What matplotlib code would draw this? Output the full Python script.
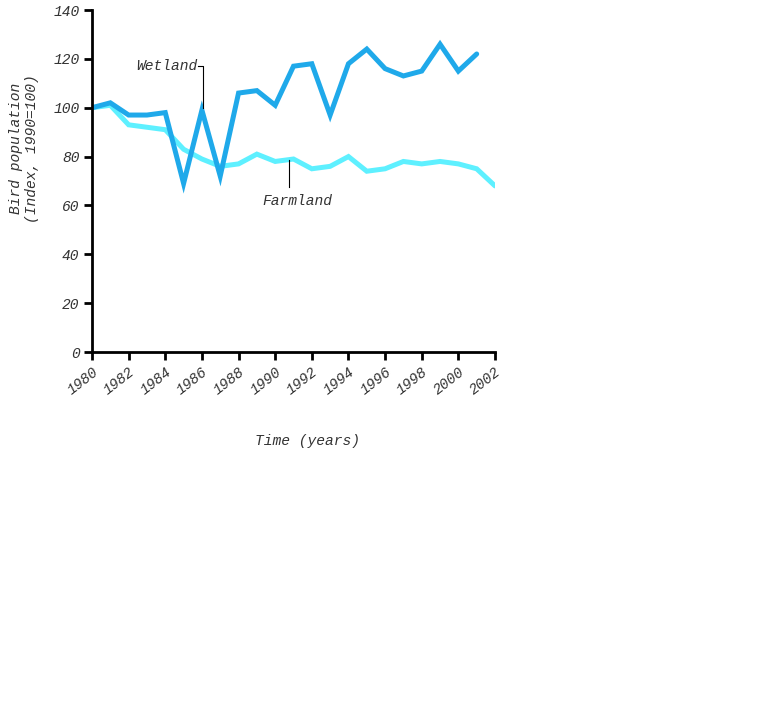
import matplotlib.pyplot as plt

# ===== DATA =====
years = list(range(1980, 2003))
wetland_years = list(range(1980, 2002))
wetland = [100, 102, 97, 97, 98, 69, 99, 72, 106, 107, 101, 117, 118, 97,
           118, 124, 116, 113, 115, 126, 115, 122]
farmland = [100, 101, 93, 92, 91, 83, 79, 76, 77, 81, 78, 79, 75, 76,
            80, 74, 75, 78, 77, 78, 77, 75, 68]
x_ticks = list(range(1980, 2003, 2))
y_ticks = list(range(0, 141, 20))

WET_COL = "#1fa9ea"
FARM_COL = "#5ef0ff"
FONT = "Liberation Mono"
TXT = "#333333"


def main():
    fig = plt.figure(figsize=(7.68, 7.12), dpi=100)
    ax = fig.add_axes([92 / 768, 1 - 352 / 712, 403 / 768, 342 / 712])

    ax.plot(years, farmland, color=FARM_COL, lw=3.6, solid_capstyle="round",
            solid_joinstyle="miter")
    ax.plot(wetland_years, wetland, color=WET_COL, lw=3.6, solid_capstyle="round",
            solid_joinstyle="miter")

    ax.set_xlim(1980, 2002)
    ax.set_ylim(0, 140)
    for s in ("top", "right"):
        ax.spines[s].set_visible(False)
    for s in ("left", "bottom"):
        ax.spines[s].set_linewidth(2)
    ax.tick_params(width=2, length=6, direction="out", pad=3)

    ax.set_xticks(x_ticks)
    ax.set_xticklabels([str(v) for v in x_ticks], rotation=38, ha="right",
                       va="top", rotation_mode="anchor", family=FONT,
                       style="italic", fontsize=10.5, color=TXT)
    ax.set_yticks(y_ticks)
    ax.set_yticklabels([str(v) for v in y_ticks], family=FONT, style="italic",
                       fontsize=10.5, color=TXT)

    ax.set_xlabel("Time (years)", family=FONT, style="italic", fontsize=10.5,
                  color=TXT, labelpad=26)
    ax.xaxis.set_label_coords(0.535, -0.24)
    ax.set_ylabel("Bird population\n(Index, 1990=100)", family=FONT,
                  style="italic", fontsize=10.5, color=TXT)
    ax.yaxis.set_label_coords(-0.132, 0.595)

    # leader-line labels
    ax.plot([1985.78, 1986.06, 1986.06], [117, 117, 100], color="black", lw=0.8)
    ax.text(1985.75, 117, "Wetland", family=FONT, style="italic", fontsize=10.5,
            color=TXT, ha="right", va="center")
    ax.plot([1990.75, 1990.75], [67.5, 78.5], color="black", lw=0.8)
    ax.text(1991.2, 62, "Farmland", family=FONT, style="italic", fontsize=10.5,
            color=TXT, ha="center", va="center")

    fig.savefig("out.png", dpi=100)


if __name__ == "__main__":
    main()
